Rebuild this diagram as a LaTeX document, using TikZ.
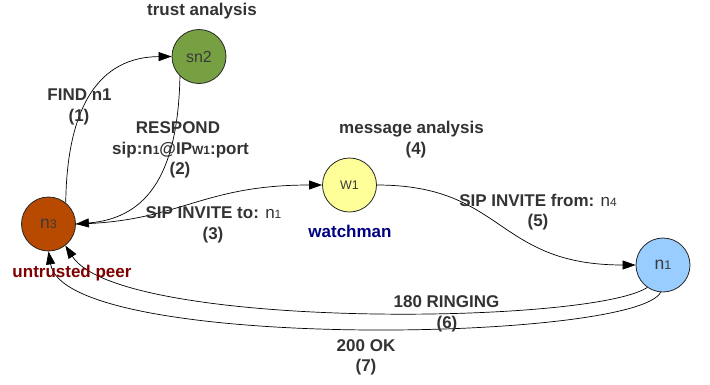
\documentclass[tikz,border=0pt]{standalone}
\usepackage{fontspec}
\setmainfont{Liberation Sans}
\usetikzlibrary{arrows.meta}

\definecolor{labelgray}{HTML}{333333}
\definecolor{nodetext}{HTML}{3A3A3A}
\definecolor{sngreen}{HTML}{77A043}
\definecolor{rust}{HTML}{B84A00}
\definecolor{paleyellow}{HTML}{FFFF99}
\definecolor{paleblue}{HTML}{99CCFF}
\definecolor{navyblue}{HTML}{000080}
\definecolor{darkred}{HTML}{800000}

% small index digit used in peer names
\newcommand\idx[1]{{\fontsize{12.5}{12.5}\selectfont #1}}
\newcommand\lblidx[1]{{\fontsize{12}{12}\selectfont #1}}

\begin{document}
\begin{tikzpicture}[x=1pt,y=-1pt,
  peer/.style={circle,draw=black!85,line width=0.8pt,minimum size=54pt,
    inner sep=0pt,text=nodetext,font=\fontsize{17.5}{17.5}\selectfont},
  msg/.style={anchor=base,inner sep=0pt,text=labelgray,
    font=\bfseries\fontsize{17}{18}\selectfont},
  flow/.style={line width=0.7pt,draw=black,
    -{Triangle[length=13pt,width=9pt]}},
]
\useasboundingbox (0,0) rectangle (710,384);

% peers
\node[peer,fill=sngreen]    (sn2) at (199,56.5) {\fontsize{16}{16}\selectfont sn2};
\node[peer,fill=rust]       (n3)  at (48.5,224) {n\idx{3}};
\node[peer,fill=paleyellow] (w1)  at (349.5,185) {\fontsize{12.5}{12.5}\selectfont W1};
\node[peer,fill=paleblue]   (n1)  at (663,265) {n\idx{1}};

% message flow
\draw[flow] (n3.51) .. controls (67,105) and (100,57) .. (sn2.west);
\draw[flow] (sn2.-134) .. controls (178,170) and (150,218) .. (n3.east);
\draw[flow] (n3.east) .. controls (180,222) and (200,185) .. (w1.west);
\draw[flow] (w1.east) .. controls (505,185) and (495,265) .. (n1.west);
\draw[flow] (n1.-125) .. controls (590,325) and (120,330) .. (n3.-52);
\draw[flow] (n1.-95) .. controls (635,342) and (65,352) .. (n3.south);

% annotations
\node[msg] (ta)   at (202,15.5) {trust analysis};
\node[msg] (find) at (79.5,100.5) {FIND n1};
\node[msg] (s1)   at (79,121) {(1)};
\node[msg] (resp) at (178,133) {RESPOND};
\node[msg] (sip)  at (180.5,154) {sip:n\lblidx{1}@IP\lblidx{W1}:port};
\node[msg] (s2)   at (180,174) {(2)};
\node[msg] (ma)   at (411.5,133) {message analysis};
\node[msg] (s4)   at (416,154) {(4)};
\node[msg] (inv)  at (213.5,218) {SIP INVITE to: {\mdseries n}\lblidx{\mdseries 1}};
\node[msg] (s3)   at (213,239) {(3)};
\node[msg,text=navyblue] (wm) at (350,237) {watchman};
\node[msg,text=darkred]  (up) at (72,277) {untrusted peer};
\node[msg] (fwd)  at (538,206) {SIP INVITE from: {\mdseries n}\lblidx{\mdseries 4}};
\node[msg] (s5)   at (538,226) {(5)};
\node[msg] (ring) at (446.5,307) {180 RINGING};
\node[msg] (s6)   at (447,328) {(6)};
\node[msg] (ok)   at (366,351) {200 OK};
\node[msg] (s7)   at (366,371) {(7)};
\end{tikzpicture}
\end{document}
